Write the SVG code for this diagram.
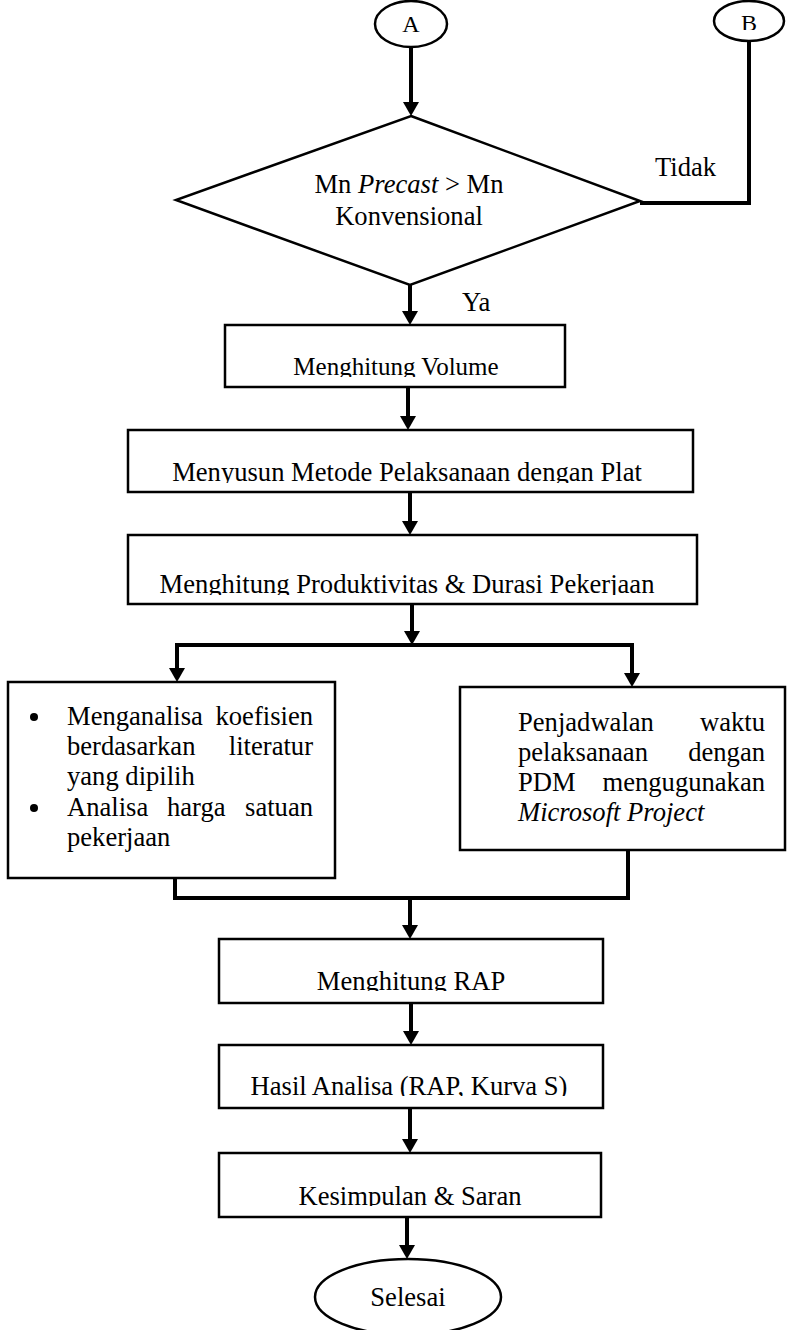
<svg xmlns="http://www.w3.org/2000/svg" width="787" height="1330" viewBox="0 0 787 1330">
<style>
.shape{fill:#fff;stroke:#000;stroke-width:2.5}
.t{font-family:"Liberation Serif","Times New Roman",serif;font-size:26.6px;fill:#000}
.c{text-anchor:middle}
.e{text-anchor:end}
.i{font-style:italic}
.con{fill:none;stroke:#000;stroke-width:4}
</style>
<defs>
<marker id="ah" markerUnits="userSpaceOnUse" markerWidth="16" markerHeight="16" refX="4" refY="8" orient="auto" viewBox="0 0 16 16">
<path d="M0,0 L14,8 L0,16 z" fill="#000"/>
</marker>
<clipPath id="k0"><rect x="0" y="0" width="787" height="30"/></clipPath>
<clipPath id="k1"><rect x="0" y="0" width="787" height="377"/></clipPath>
<clipPath id="k2"><rect x="0" y="0" width="787" height="483"/></clipPath>
<clipPath id="k3"><rect x="0" y="0" width="787" height="595"/></clipPath>
<clipPath id="k4"><rect x="0" y="0" width="787" height="991"/></clipPath>
<clipPath id="k5"><rect x="0" y="0" width="787" height="1096"/></clipPath>
<clipPath id="k6"><rect x="0" y="0" width="787" height="1206"/></clipPath>
</defs>
<rect width="787" height="1330" fill="#fff"/>

<g id="connectors">
<path class="con" d="M411,47 V106" marker-end="url(#ah)"/>
<path class="con" d="M749,41 V203 H640"/>
<path class="con" d="M410,285 V315" marker-end="url(#ah)"/>
<path class="con" d="M408,387 V420" marker-end="url(#ah)"/>
<path class="con" d="M410,492 V525" marker-end="url(#ah)"/>
<path class="con" d="M412,604 V635" marker-end="url(#ah)"/>
<path class="con" d="M412,645 H177 V672" marker-end="url(#ah)"/>
<path class="con" d="M412,645 H632 V677" marker-end="url(#ah)"/>
<path class="con" d="M175,878 V898 H628 V850"/>
<path class="con" d="M410,898 V929" marker-end="url(#ah)"/>
<path class="con" d="M411,1003 V1035" marker-end="url(#ah)"/>
<path class="con" d="M410,1108 V1143" marker-end="url(#ah)"/>
<path class="con" d="M407,1217 V1249" marker-end="url(#ah)"/>
<text class="t" x="655" y="176">Tidak</text>
<text class="t" x="462" y="311">Ya</text>
</g>

<g id="nodeA">
<ellipse class="shape" cx="411" cy="24" rx="36" ry="23"/>
<text class="t c" x="411" y="32" style="font-size:24px">A</text>
</g>
<g id="nodeB">
<ellipse class="shape" cx="749" cy="21" rx="35" ry="20"/>
<text class="t c" x="749" y="31" style="font-size:24px" clip-path="url(#k0)">B</text>
</g>

<g id="decision">
<polygon class="shape" points="411,116 640,201 410,285 176,200"/>
<text class="t c" x="409" y="193">Mn <tspan class="i">Precast</tspan> &gt; Mn</text>
<text class="t c" x="409" y="225">Konvensional</text>
</g>

<g id="box1">
<rect class="shape" x="225" y="325" width="340" height="62"/>
<text class="t c" x="396" y="375" style="font-size:25px" clip-path="url(#k1)">Menghitung Volume</text>
</g>

<g id="box2">
<rect class="shape" x="128" y="430" width="565" height="62"/>
<text class="t c" x="407" y="481" clip-path="url(#k2)">Menyusun Metode Pelaksanaan dengan Plat</text>
</g>

<g id="box3">
<rect class="shape" x="128" y="535" width="569" height="69"/>
<text class="t c" x="407" y="593" clip-path="url(#k3)">Menghitung Produktivitas &amp; Durasi Pekerjaan</text>
</g>

<g id="boxLeft">
<rect class="shape" x="8" y="682" width="327" height="196"/>
<circle cx="34" cy="717" r="4"/>
<circle cx="34" cy="808" r="4"/>
<text class="t" x="67" y="725">Menganalisa</text>
<text class="t e" x="313" y="725">koefisien</text>
<text class="t" x="67" y="755">berdasarkan</text>
<text class="t e" x="313" y="755">literatur</text>
<text class="t" x="67" y="785">yang dipilih</text>
<text class="t" x="67" y="816">Analisa</text>
<text class="t" x="167" y="816">harga</text>
<text class="t e" x="313" y="816">satuan</text>
<text class="t" x="67" y="846">pekerjaan</text>
</g>

<g id="boxRight">
<rect class="shape" x="460" y="687" width="325" height="163"/>
<text class="t" x="518" y="731">Penjadwalan</text>
<text class="t e" x="765" y="731">waktu</text>
<text class="t" x="518" y="761">pelaksanaan</text>
<text class="t e" x="765" y="761">dengan</text>
<text class="t" x="518" y="791">PDM</text>
<text class="t e" x="765" y="791">mengugunakan</text>
<text class="t i" x="518" y="821">Microsoft Project</text>
</g>

<g id="boxRAP">
<rect class="shape" x="219" y="939" width="384" height="64"/>
<text class="t c" x="411" y="990" clip-path="url(#k4)">Menghitung RAP</text>
</g>

<g id="boxHasil">
<rect class="shape" x="219" y="1045" width="384" height="63"/>
<text class="t c" x="409" y="1095" clip-path="url(#k5)">Hasil Analisa (RAP, Kurva S)</text>
</g>

<g id="boxKesimpulan">
<rect class="shape" x="219" y="1153" width="382" height="64"/>
<text class="t c" x="410" y="1205" clip-path="url(#k6)">Kesimpulan &amp; Saran</text>
</g>

<g id="selesai">
<ellipse class="shape" cx="408" cy="1297" rx="93" ry="38"/>
<text class="t c" x="408" y="1306">Selesai</text>
</g>
</svg>
